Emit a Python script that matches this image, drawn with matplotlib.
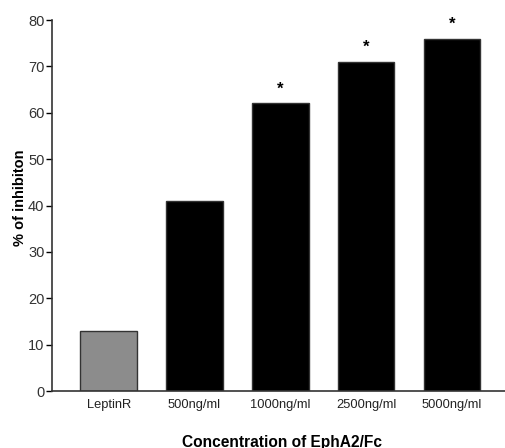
import numpy as np
import matplotlib
matplotlib.use('Agg')
import matplotlib.pyplot as plt

categories = ['LeptinR', '500ng/ml', '1000ng/ml', '2500ng/ml', '5000ng/ml']
inhibition = [13, 41, 62, 71, 76]
significant = [False, False, True, True, True]
bar_colors = ['#8c8c8c', 'black', 'black', 'black', 'black']

plt.rcParams['font.family'] = ['Liberation Sans', 'DejaVu Sans']

fig = plt.figure(figsize=(5.06, 4.48), dpi=100)
ax = fig.add_axes([52/506, 57/448, 1 - 52/506, 371/448])

x = np.arange(len(categories))
ax.bar(x, inhibition, width=0.66, color=bar_colors, edgecolor='#333333', linewidth=1.0)

for xi, v, s in zip(x, inhibition, significant):
	if s:
		ax.text(xi, v + 1.4, '*', ha='center', va='bottom', fontsize=12, fontweight='bold')

ax.set_xlim(-0.66, 4.63)
ax.set_ylim(0, 80)
ax.set_yticks(range(0, 81, 10))
ax.set_xticks(x)
ax.set_xticklabels(categories, fontsize=9.3)
ax.tick_params(axis='y', labelsize=10.5, length=4, width=1.0, direction='out', pad=1.5, labelcolor='#333333')
ax.tick_params(axis='x', length=0, pad=6, labelcolor='#222222')

for sp in ['top', 'right']:
	ax.spines[sp].set_visible(False)
ax.spines['left'].set_linewidth(1.2)
ax.spines['bottom'].set_linewidth(1.2)
ax.spines['left'].set_color('#333333')
ax.spines['bottom'].set_color('#333333')

# axis titles placed on the figure, as in the scanned original
fig.text(20/506, 1 - 198/448, '% of inhibiton', rotation=90, ha='center', va='center',
		fontsize=10.5, fontweight='bold')
fig.text(282/506, 1 - 442/448, 'Concentration of EphA2/Fc', ha='center', va='center',
		fontsize=11.2, fontweight='bold')

plt.savefig('out.png', dpi=100)
